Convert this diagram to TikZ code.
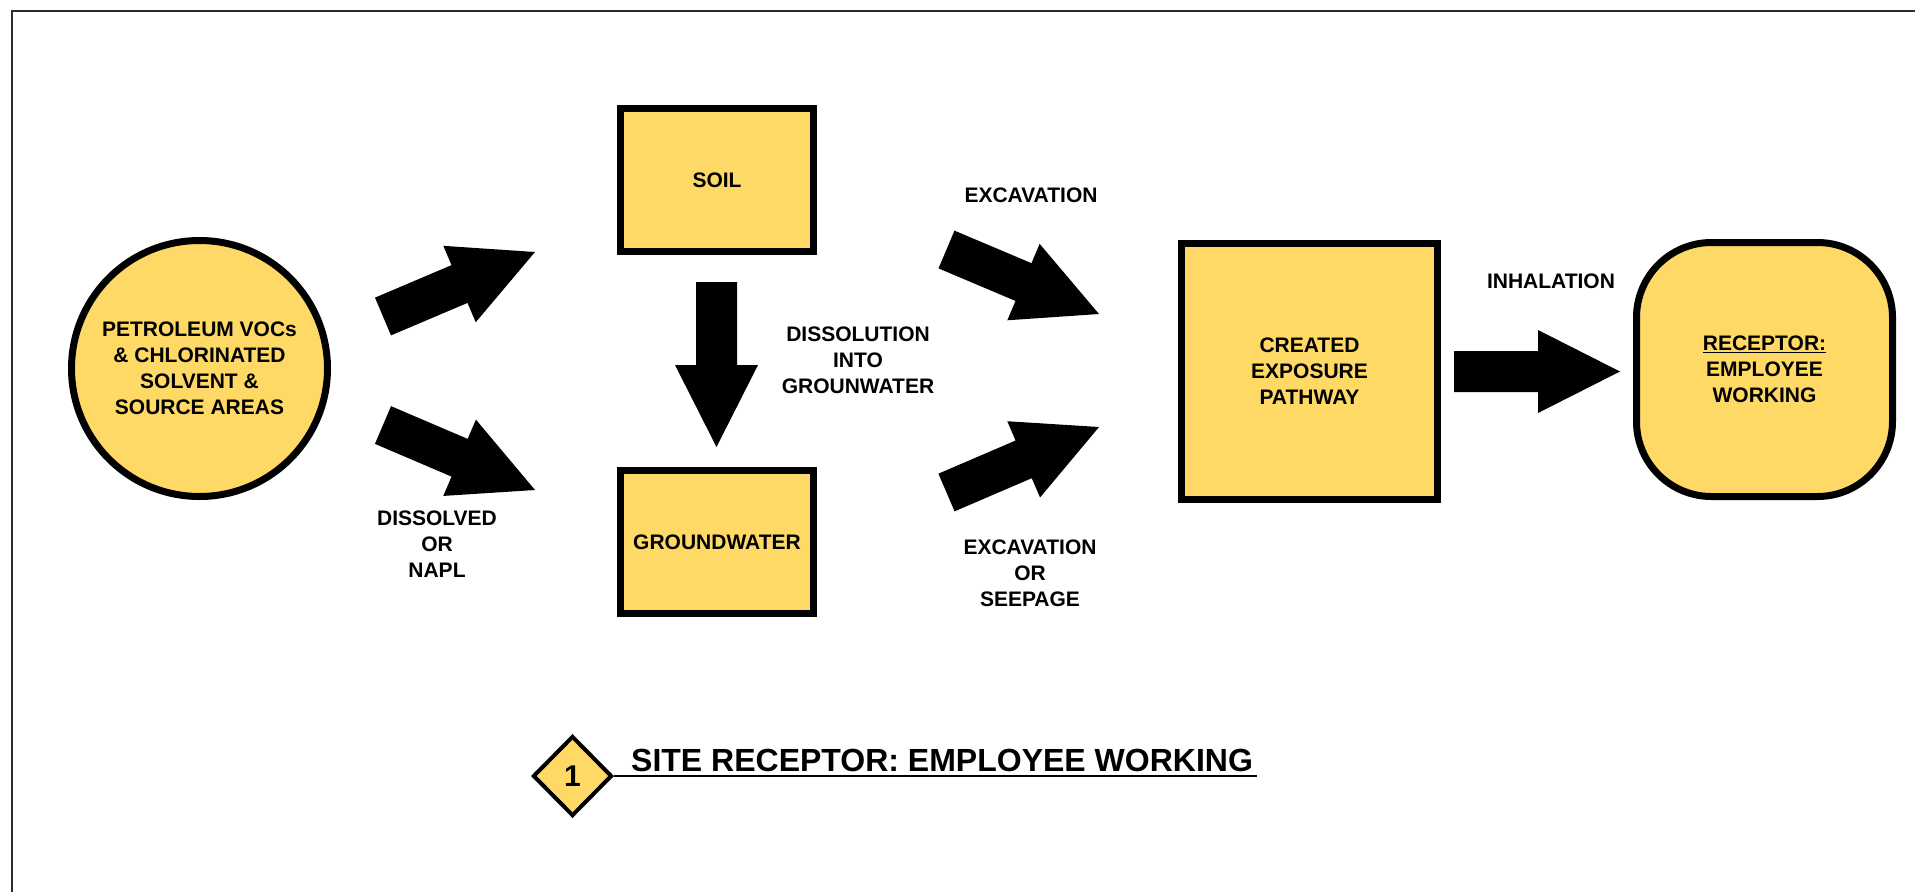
\documentclass[tikz,border=0pt]{standalone}
\usepackage{fontspec}
\setmainfont{Liberation Sans}
\usetikzlibrary{shapes.geometric,calc}
\definecolor{boxyellow}{RGB}{255,217,102}
\definecolor{framegray}{RGB}{45,45,45}
\newcommand\blockarrow[2]{%
  \coordinate (ba-h) at ($(#2)!82pt!(#1)$);
  \fill[arrowfill] ($(#1)!20.5pt!90:(#2)$) -- ($(ba-h)!20.5pt!90:(#2)$) -- ($(ba-h)!41.5pt!90:(#2)$) -- (#2)
    -- ($(ba-h)!41.5pt!-90:(#2)$) -- ($(ba-h)!20.5pt!-90:(#2)$) -- ($(#1)!20.5pt!-90:(#2)$) -- cycle;
}
\begin{document}
\begin{tikzpicture}[x=1pt,y=-1pt,
  box/.style={draw=black,line width=7pt,fill=boxyellow,inner sep=0pt,align=center,
    font=\fontsize{21}{26}\selectfont\bfseries},
  lbl/.style={align=center,inner sep=0pt,font=\fontsize{21}{26}\selectfont\bfseries},
  arrowfill/.style={fill=black}]
\useasboundingbox (0,0) rectangle (1915,892);
\fill[white] (0,0) rectangle (1915,892);
\draw[line width=2.5pt,draw=framegray] (12,892) -- (12,11) -- (1915,11);

% main nodes
\node[box,circle,minimum size=256pt] (src) at (199.5,368.5)
  {PETROLEUM VOCs\\\& CHLORINATED\\SOLVENT \&\\SOURCE AREAS};
\node[box,minimum width=193pt,minimum height=143pt] (soil) at (717,180) {SOIL};
\node[box,minimum width=193pt,minimum height=143pt] (gw) at (717,542) {GROUNDWATER};
\node[box,minimum size=256pt] (cep) at (1309.5,371.5) {CREATED\\EXPOSURE\\PATHWAY};
\node[box,minimum width=256pt,minimum height=254pt,rounded corners=75pt] (rec) at (1764.5,369.5)
  {\underline{RECEPTOR:}\\EMPLOYEE\\WORKING};

% labels
\node[lbl] (lexc1) at (1031,195) {EXCAVATION};
\node[lbl] (lexc2) at (1030,573) {EXCAVATION\\OR\\SEEPAGE};
\node[lbl] (ldiss) at (858,360) {DISSOLUTION\\INTO\\GROUNWATER};
\node[lbl] (ldno) at (437,544) {DISSOLVED\\OR\\NAPL};
\node[lbl] (linh) at (1551,281) {INHALATION};

% block arrows
\coordinate (a1t) at (383,316.5);  \coordinate (a1p) at (535,252);
\coordinate (a2t) at (383,425);    \coordinate (a2p) at (535,490);
\coordinate (a3t) at (716.5,282);  \coordinate (a3p) at (716.5,447);
\coordinate (a4t) at (946.5,249.5); \coordinate (a4p) at (1099,314);
\coordinate (a5t) at (946.5,492.5); \coordinate (a5p) at (1099,427);
\coordinate (a6t) at (1454,371.5); \coordinate (a6p) at (1620,371.5);
\blockarrow{a1t}{a1p}
\blockarrow{a2t}{a2p}
\blockarrow{a3t}{a3p}
\blockarrow{a4t}{a4p}
\blockarrow{a5t}{a5p}
\blockarrow{a6t}{a6p}

% title
\node[diamond,draw=black,line width=4pt,fill=boxyellow,minimum width=79pt,minimum height=80pt,
  inner sep=0pt,font=\fontsize{30}{30}\selectfont\bfseries] (dia) at (572.5,776) {1};
\node[anchor=base west,inner sep=0pt,font=\fontsize{32}{32}\selectfont\bfseries] (title) at (631,771)
  {SITE RECEPTOR: EMPLOYEE WORKING};
\draw[line width=2pt] (dia.east) -- ($(dia.east -| title.east)+(4,0)$);
\end{tikzpicture}
\end{document}
